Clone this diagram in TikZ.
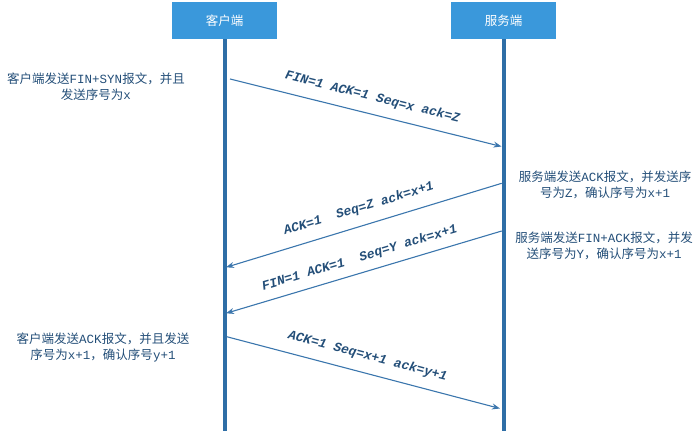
\documentclass[tikz,border=0pt]{standalone}
\usepackage{fontspec}
\setmainfont{Noto Sans CJK SC}
\newfontfamily\asc{Liberation Mono}
\usetikzlibrary{arrows.meta}
\definecolor{boxblue}{HTML}{3A98DB}
\definecolor{lifeblue}{HTML}{2E6EA6}
\definecolor{arrblue}{HTML}{3B76AD}
\definecolor{txtblue}{HTML}{234E78}
\newcommand{\ascx}[1]{{\asc #1}}
\begin{document}
\begin{tikzpicture}[x=1pt,y=-1pt,
  hdr/.style={fill=boxblue, text=white, minimum width=104.5pt, minimum height=37pt, inner sep=0pt, font=\fontsize{12.5}{14}\selectfont},
  life/.style={draw=lifeblue, line width=4pt},
  tipend/.style={-{Stealth[length=8pt,width=6pt]}},
  tipstart/.style={{Stealth[length=8pt,width=6pt]}-},
  msg/.style={draw=arrblue, line width=1.1pt},
  lab/.style={text=txtblue, font=\asc\bfseries\itshape\fontsize{13}{15}\selectfont, inner sep=0pt, sloped},
  note/.style={text=txtblue, align=center, font=\fontsize{12.5}{16}\selectfont, inner sep=0pt}]
\useasboundingbox (0,0) rectangle (699,438);
\node[hdr] (cl) at (224.5,20.8) {客户端};
\node[hdr] (sv) at (503.5,20.8) {服务端};
\coordinate (clend) at (224.5,431);
\coordinate (svend) at (503.5,431);
\draw[life] (cl.south) -- (clend);
\draw[life] (sv.south) -- (svend);
% message end points
\coordinate (m1a) at (230,79);
\coordinate (m1b) at (501.5,146.5);
\coordinate (m2a) at (501.7,183.3);
\coordinate (m2b) at (226,267.3);
\coordinate (m3a) at (501.7,231);
\coordinate (m3b) at (226,313.3);
\coordinate (m4a) at (226.7,336.7);
\coordinate (m4b) at (500,408.5);
\draw[msg,tipend] (m1a) -- node[lab, pos=0.51, above=10pt] {FIN=1 ACK=1 Seq=x ack=Z} (m1b);
\draw[msg,tipstart] (m2b) -- node[lab, pos=0.5, above=10.5pt] {ACK=1\ \ Seq=Z ack=x+1} (m2a);
\draw[msg,tipstart] (m3b) -- node[lab, pos=0.5, above=8pt] {FIN=1 ACK=1\ \ Seq=Y ack=x+1} (m3a);
\draw[msg,tipend] (m4a) -- node[lab, pos=0.5, above=10.5pt] {ACK=1 Seq=x+1 ack=y+1} (m4b);
% notes
\node[note] (n1) at (96,87) {客户端发送\ascx{FIN+SYN}报文，并且\\发送序号为\ascx{x}};
\node[note] (n2) at (605,185) {服务端发送\ascx{ACK}报文，并发送序\\号为\ascx{Z}，确认序号为\ascx{x+1}};
\node[note] (n3) at (604,246) {服务端发送\ascx{FIN+ACK}报文，并发\\送序号为\ascx{Y}，确认序号为\ascx{x+1}};
\node[note] (n4) at (103,347) {客户端发送\ascx{ACK}报文，并且发送\\序号为\ascx{x+1}，确认序号\ascx{y+1}};
\end{tikzpicture}
\end{document}
